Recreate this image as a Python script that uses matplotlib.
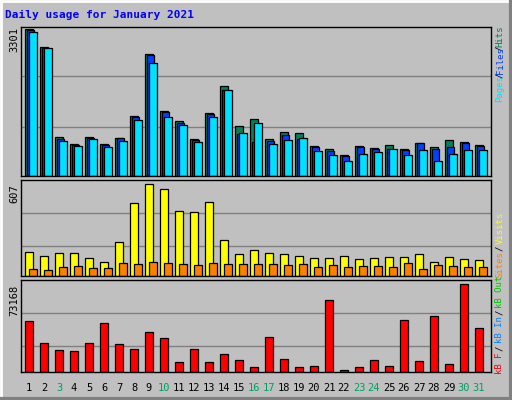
import matplotlib
matplotlib.use("Agg")
import matplotlib.pyplot as plt
import numpy as np

days = list(range(1, 32))
green_days = [3, 10, 16, 17, 23, 24, 30, 31]

hits = [3301, 2896, 870, 713, 870, 713, 848, 1343, 2746, 1463, 1238, 833, 1410, 2026, 1118, 1283,
        833, 990, 968, 675, 608, 473, 675, 630, 698, 608, 743, 653, 810, 765, 698]
files = [3278, 2881, 833, 690, 848, 690, 848, 1320, 2723, 1433, 1185, 810, 1388, 1936, 945, 765,
         795, 923, 833, 653, 563, 450, 653, 608, 608, 585, 743, 608, 653, 743, 675]
pages = [3233, 2873, 788, 675, 833, 653, 788, 1260, 2543, 1328, 1148, 765, 1328, 1936, 960, 1185,
         720, 810, 855, 563, 473, 338, 495, 540, 608, 473, 585, 338, 495, 585, 585]
visits = [158, 132, 152, 152, 119, 92, 224, 482, 607, 574, 429, 422, 488, 238, 145, 172,
          152, 145, 132, 119, 119, 132, 112, 119, 125, 125, 145, 92, 125, 112, 106]
sites = [46, 40, 59, 66, 53, 53, 86, 79, 92, 86, 79, 73, 86, 79, 79, 79,
         79, 73, 79, 59, 73, 59, 66, 66, 59, 86, 46, 73, 66, 59, 59]
kbytes = [42565, 23925, 18083, 17249, 23925, 40618, 23091, 18918, 33107, 28099, 8068, 18918, 8068,
          14745, 9737, 3895, 28933, 10572, 3895, 4730, 59814, 1391, 3895, 9737, 4730, 43121, 8903,
          46459, 6399, 73168, 36445]

W, H = 512, 400
fig = plt.figure(figsize=(W / 100, H / 100), dpi=100)
fig.patch.set_facecolor("#C0C0C0")
mono = "DejaVu Sans Mono"


def make_ax(top, base, maxval, maxpix):
    ax = fig.add_axes([21 / W, 1 - base / H, 470 / W, (base - top) / H])
    ax.set_facecolor("#C0C0C0")
    ax.set_xlim(21, 491)
    ax.set_ylim(0, maxval * (base - top) / (base - maxpix))
    ax.set_xticks([])
    ax.set_yticks([])
    for s in ax.spines.values():
        s.set_color("black")
        s.set_linewidth(1)
    return ax


def grid(ax, fracs):
    for f in fracs:
        ax.plot([0, 1], [f, f], transform=ax.transAxes, color="#808080", lw=1, zorder=0)


x0 = np.array([25 + (d - 1) * 15 for d in days], dtype=float)
kw = dict(align="edge", edgecolor="black", linewidth=0.9)

ax1 = make_ax(27, 176, 3301, 29.3)
grid(ax1, [0.671, 0.329])
ax1.bar(x0, hits, width=7.5, color="#00805C", **kw)
ax1.bar(x0 + 1.7, files, width=7.5, color="#0040FF", **kw)
ax1.bar(x0 + 4, pages, width=7.7, color="#00E0FF", **kw)

ax2 = make_ax(180, 276, 607, 184.3)
grid(ax2, [0.656, 0.313])
ax2.bar(x0, visits, width=8.3, color="#FFFF00", **kw)
ax2.bar(x0 + 4, sites, width=7.7, color="#FF8000", **kw)

ax3 = make_ax(280, 372, 73168, 284.3)
grid(ax3, [0.64, 0.28])
ax3.bar(x0, kbytes, width=7.5, color="#FF0000", **kw)

fig.text(5 / W, 1 - 15 / H, "Daily usage for January 2021", color="#0000FF",
         family=mono, weight="bold", fontsize=8, va="center")

for lab, yc in [("3301", 40), ("607", 194), ("73168", 300)]:
    fig.text(14 / W, 1 - yc / H, lab, rotation=90, family=mono, fontsize=7.5,
             ha="center", va="center")

for d, xx in zip(days, x0):
    fig.text((xx + 4) / W, 1 - 388 / H, str(d), family=mono, fontsize=7.5,
             ha="center", va="center",
             color="#00A060" if d in green_days else "black")

right = [("Hits", 36, "#00805C"), ("/", 48, "black"), ("Files", 61, "#0040FF"),
         ("/", 75, "black"), ("Pages", 89, "#00E0FF"),
         ("Visits", 228, "#FFFF00"), ("/", 248, "black"), ("Sites", 265, "#FF8000"),
         ("kB Out", 292, "#00C000"), ("/", 312, "black"), ("kB In", 330, "#0080FF"),
         ("/", 348, "black"), ("kB F", 363, "#FF0000")]
for lab, yc, c in right:
    fig.text(500 / W, 1 - yc / H, lab, rotation=90, family=mono, fontsize=6.5,
             ha="center", va="center", color=c)

# bevel border
fig.add_artist(plt.Line2D([0, 1], [1 - 1 / H, 1 - 1 / H], color="white", lw=2))
fig.add_artist(plt.Line2D([1 / W, 1 / W], [0, 1], color="white", lw=2))
fig.add_artist(plt.Line2D([0, 1], [1 / H, 1 / H], color="#808080", lw=3))
fig.add_artist(plt.Line2D([1 - 1.5 / W, 1 - 1.5 / W], [0, 1], color="#808080", lw=3))

fig.savefig("out.png", dpi=100, facecolor=fig.get_facecolor())
